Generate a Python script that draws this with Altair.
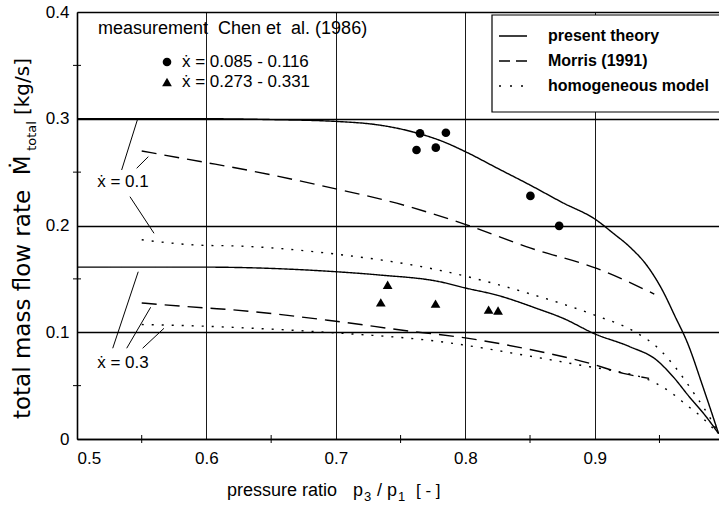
import altair as alt
import pandas as pd

# ---------------- data ----------------
# present theory, x = 0.1
pt1_p = [0.50, 0.55, 0.60, 0.65, 0.70, 0.734, 0.76, 0.783, 0.801, 0.825, 0.850, 0.875, 0.901,
         0.914, 0.927, 0.94, 0.952, 0.962, 0.972, 0.983, 0.9957]
pt1_m = [0.300, 0.300, 0.300, 0.2992, 0.2975, 0.294, 0.2875, 0.2785, 0.2686, 0.2535, 0.2379, 0.2215,
         0.2053, 0.193, 0.180, 0.163, 0.140, 0.115, 0.089, 0.051, 0.005]
# present theory, x = 0.3
pt3_p = [0.50, 0.55, 0.60, 0.618, 0.70, 0.734, 0.780, 0.801, 0.824, 0.855, 0.8755, 0.90, 0.927, 0.9477,
         0.9605, 0.973, 0.986, 0.9957]
pt3_m = [0.161, 0.161, 0.161, 0.1608, 0.1567, 0.1536, 0.1474, 0.1412, 0.1349, 0.1224, 0.1131, 0.0985, 0.0865,
         0.074, 0.0584, 0.0396, 0.021, 0.005]
# Morris (1991)
mo1_p = [0.55, 0.60, 0.618, 0.70, 0.747, 0.801, 0.850, 0.901, 0.946]
mo1_m = [0.2698, 0.2589, 0.255, 0.2343, 0.2209, 0.2006, 0.179, 0.160, 0.1358]
mo3_p = [0.55, 0.60, 0.618, 0.70, 0.757, 0.80, 0.85, 0.896, 0.922, 0.942]
mo3_m = [0.1274, 0.1227, 0.1212, 0.1103, 0.101, 0.0947, 0.0838, 0.0709, 0.0615, 0.0568]
# homogeneous model
ho1_p = [0.55, 0.60, 0.618, 0.70, 0.778, 0.85, 0.90, 0.93, 0.95, 0.963, 0.976, 0.989, 0.995]
ho1_m = [0.1866, 0.1813, 0.181, 0.1732, 0.1586, 0.136, 0.116, 0.101, 0.084, 0.066, 0.044, 0.020, 0.007]
ho3_p = [0.55, 0.60, 0.618, 0.70, 0.778, 0.85, 0.896, 0.9116, 0.9477, 0.958, 0.971, 0.9836, 0.993]
ho3_m = [0.1072, 0.1056, 0.1047, 0.0994, 0.0916, 0.0776, 0.0677, 0.0646, 0.052, 0.0443, 0.0318, 0.0194, 0.008]

# measurements Chen et al. (1986)
circ_p = [0.765, 0.7623, 0.7772, 0.785, 0.8503, 0.8725]
circ_m = [0.2863, 0.2707, 0.2729, 0.2869, 0.2277, 0.1997]
tri_p = [0.740, 0.7347, 0.777, 0.818, 0.8253]
tri_m = [0.1445, 0.128, 0.1268, 0.1212, 0.1203]

models = ["present theory", "Morris (1991)", "homogeneous model"]
x_ticks = [0.5, 0.6, 0.7, 0.8, 0.9]
y_ticks = [0.0, 0.1, 0.2, 0.3, 0.4]
x_minor = [0.55, 0.65, 0.75, 0.85, 0.95]
y_minor = [0.05, 0.15, 0.25, 0.35]

# leader lines of the "x = 0.1" / "x = 0.3" labels (data coordinates)
lead_x1 = [0.5345, 0.5461, 0.5409, 0.5276, 0.5384, 0.5507]
lead_y1 = [0.252, 0.2536, 0.227, 0.085, 0.085, 0.085]
lead_x2 = [0.5466, 0.5551, 0.5595, 0.5473, 0.5569, 0.5672]
lead_y2 = [0.2988, 0.2645, 0.1927, 0.1567, 0.1234, 0.1037]
lab_text = ["ẋ = 0.1", "ẋ = 0.3"]
lab_p = [0.5355, 0.5355]
lab_m = [0.241, 0.0715]

# ---------------- tables ----------------
rows = []
for p, m, model, q in [
    (pt1_p, pt1_m, models[0], "0.1"), (pt3_p, pt3_m, models[0], "0.3"),
    (mo1_p, mo1_m, models[1], "0.1"), (mo3_p, mo3_m, models[1], "0.3"),
    (ho1_p, ho1_m, models[2], "0.1"), (ho3_p, ho3_m, models[2], "0.3"),
]:
    for a, b in zip(p, m):
        rows.append({"p": a, "m": b, "model": model, "series": model + q})
lines_df = pd.DataFrame(rows)
circ_df = pd.DataFrame({"p": circ_p, "m": circ_m})
tri_df = pd.DataFrame({"p": tri_p, "m": tri_m})
lead_df = pd.DataFrame({"p": lead_x1, "m": lead_y1, "p2": lead_x2, "m2": lead_y2})
lab_df = pd.DataFrame({"p": lab_p, "m": lab_m, "t": lab_text})
xminor_df = pd.DataFrame({"p": x_minor})
yminor_df = pd.DataFrame({"m": y_minor})
one = pd.DataFrame({"a": [0]})

FONT = "Liberation Sans"
W, H = 642, 427
NB = "\u00a0"

xs = alt.Scale(domain=[0.5, 0.996], nice=False, zero=False)
ys = alt.Scale(domain=[0, 0.4], nice=False)

xaxis = alt.Axis(values=x_ticks, format=".1f", grid=True, gridColor="black", gridWidth=0.9,
                 ticks=False, domain=True, domainColor="black", domainWidth=1.6,
                 labelFontSize=17, labelPadding=11, labelColor="black", labelFont=FONT, title=None)
yaxis = alt.Axis(values=y_ticks, format="~g", grid=True, gridColor="black", gridWidth=1.3,
                 ticks=False, domain=True, domainColor="black", domainWidth=1.6,
                 labelFontSize=17, labelPadding=8, labelColor="black", labelFont=FONT, title=None)


def X(f="p"):
    return alt.X(f"{f}:Q", scale=xs, axis=xaxis)


def Y(f="m"):
    return alt.Y(f"{f}:Q", scale=ys, axis=yaxis)


def txt(s, x, y, size=17, weight="normal", align="left", baseline="middle", angle=0, font=FONT):
    kw = dict(text=s, font=font, fontSize=size, fontWeight=weight, color="black",
              align=align, baseline=baseline)
    if angle:
        kw["angle"] = angle
    return alt.Chart(one).mark_text(**kw).encode(x=alt.value(x), y=alt.value(y))


lines = alt.Chart(lines_df).mark_line(color="black", strokeWidth=1.4, interpolate="monotone").encode(
    x=X(), y=Y(), detail="series:N",
    strokeDash=alt.StrokeDash("model:N", scale=alt.Scale(domain=models, range=[[1, 0], [15, 8], [2, 8]]),
                              legend=None),
)
circles = alt.Chart(circ_df).mark_point(shape="circle", filled=True, color="black", size=75, opacity=1).encode(
    x=X(), y=Y())
tris = alt.Chart(tri_df).mark_point(shape="triangle-up", filled=True, color="black", size=95, opacity=1).encode(
    x=X(), y=Y())
leads = alt.Chart(lead_df).mark_rule(color="black", strokeWidth=1).encode(
    x=X(), y=Y(), x2="p2:Q", y2="m2:Q")
labels = alt.Chart(lab_df).mark_text(font=FONT, fontSize=17, color="black", align="center",
                                     baseline="middle").encode(x=X(), y=Y(), text="t:N")
xminor = alt.Chart(xminor_df).mark_rule(color="black", strokeWidth=1).encode(
    x=X(), y=alt.value(H - 4), y2=alt.value(H + 4))
yminor = alt.Chart(yminor_df).mark_rule(color="black", strokeWidth=1).encode(
    y=Y(), x=alt.value(-4), x2=alt.value(4))

# legend box (top right)
box = alt.Chart(one).mark_rect(fill="white", stroke="black", strokeWidth=1.2).encode(
    x=alt.value(415), x2=alt.value(660), y=alt.value(3), y2=alt.value(100))
leg_layers = []
leg_y = [24, 49, 74]
leg_dash = [[1, 0], [11, 6], [2, 9]]
for name, yy, dash in zip(models, leg_y, leg_dash):
    leg_layers.append(alt.Chart(one).mark_rule(color="black", strokeWidth=1.4, strokeDash=dash).encode(
        x=alt.value(422), x2=alt.value(450), y=alt.value(yy)))
    leg_layers.append(txt(name, 471, yy, size=16, weight="bold"))

# measurement legend (top left)
meas = [
    txt(f"measurement{NB} Chen et{NB} al. (1986)", 21, 17, size=18),
    alt.Chart(one).mark_point(shape="circle", filled=True, color="black", size=75, opacity=1).encode(
        x=alt.value(90), y=alt.value(50)),
    txt("ẋ = 0.085 - 0.116", 105, 50, size=17),
    alt.Chart(one).mark_point(shape="triangle-up", filled=True, color="black", size=95, opacity=1).encode(
        x=alt.value(90), y=alt.value(70)),
    txt("ẋ = 0.273 - 0.331", 105, 70, size=17),
]

# y axis title with subscript
ytitle = [
    txt(f"total mass flow rate{NB} Ṁ", -54, 407, size=23, angle=270, font="DejaVu Sans"),
    txt("total", -45, 124, size=13, angle=270, align="center", font="DejaVu Sans"),
    txt("[kg/s]", -54, 46, size=20, angle=270, align="right", font="DejaVu Sans"),
]

# x axis title with subscripts
xt_base = H + 57
xtitle = [
    txt("pressure ratio", 150, xt_base, size=18, baseline="alphabetic"),
    txt("p", 276, xt_base, size=18, baseline="alphabetic"),
    txt("3", 287, xt_base + 5, size=13, baseline="alphabetic"),
    txt("/", 300, xt_base, size=18, baseline="alphabetic"),
    txt("p", 310, xt_base, size=18, baseline="alphabetic"),
    txt("1", 321, xt_base + 5, size=13, baseline="alphabetic"),
    txt(f"[{NB}-{NB}]", 339, xt_base, size=17, baseline="alphabetic"),
]

chart = alt.layer(
    lines, xminor, yminor, leads, labels, circles, tris, box, *leg_layers, *meas, *ytitle, *xtitle
).properties(
    width=W, height=H,
    padding={"left": 77, "top": 12, "right": 0, "bottom": 69},
    autosize=alt.AutoSizeParams(type="none"),
).configure_view(stroke=None).configure(font=FONT, background="white")

chart.save("out.html", embed_options={"renderer": "svg", "actions": False})
